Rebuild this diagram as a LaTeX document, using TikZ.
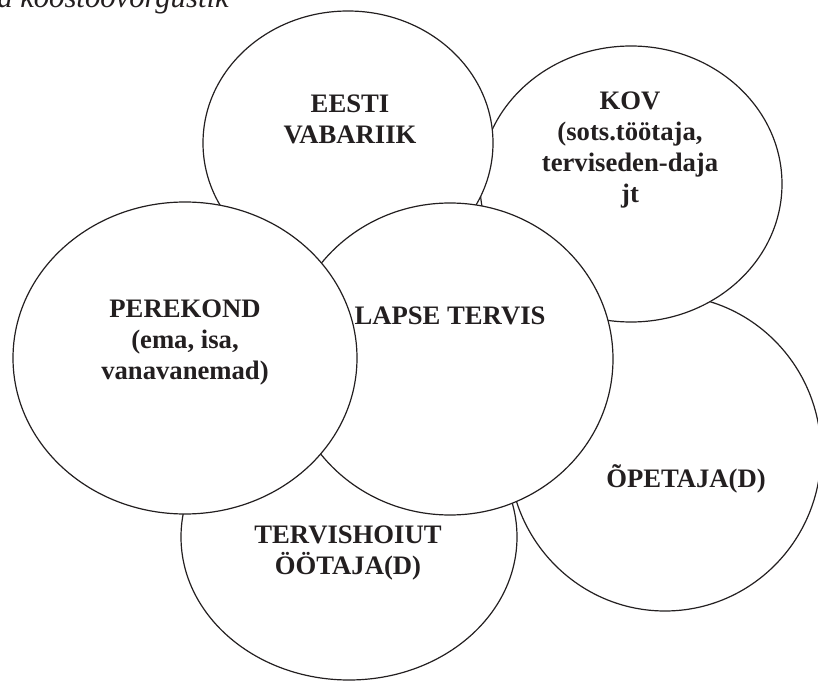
\documentclass[tikz,border=0pt]{standalone}
\usepackage{fontspec}
\setmainfont{Liberation Serif}
\usetikzlibrary{shapes.geometric}
\definecolor{ink}{RGB}{35,31,32}
\begin{document}
\begin{tikzpicture}[x=0.75pt,y=-0.75pt,
  bubble/.style args={#1/#2}{ellipse, draw=ink, line width=0.9pt, fill=white,
    inner sep=0pt, outer sep=0pt, minimum width=#1*0.75pt, minimum height=#2*0.75pt},
  lbl/.style={font=\fontsize{20}{23.25}\selectfont\bfseries, align=center,
    text=ink, inner sep=0pt},
  caption/.style={font=\fontsize{23}{27}\selectfont\itshape, text=ink, inner sep=0pt}]
\useasboundingbox (0,0) rectangle (818,681);
\clip (0,0) rectangle (818,681);
% caption, cut off by the top edge
\node[caption, anchor=base west] (cap) at (-3,8) {a koostöövõrgustik};
% circles, back to front
\node[bubble=312/316] (opetaja) at (665,453) {};
\node[bubble=302/276] (kov) at (631,184) {};
\node[bubble=290/264] (eesti) at (348,143) {};
\node[bubble=336/286] (tervishoid) at (349,537) {};
\node[bubble=326/312] (lapse) at (450,359) {};
\node[bubble=344/312] (perekond) at (185,358) {};
% texts
\node[lbl] (t-eesti) at (350,119.5) {EESTI\\VABARIIK};
\node[lbl] (t-kov) at (630,150) {KOV\\(sots.töötaja,\\terviseden-daja\\jt};
\node[lbl] (t-perekond) at (185,342.5) {PEREKOND\\(ema, isa,\\vanavanemad)};
\node[lbl] (t-lapse) at (450,316) {LAPSE TERVIS};
\node[lbl] (t-tervishoid) at (348,553) {TERVISHOIUT\\ÖÖTAJA(D)};
\node[lbl] (t-opetaja) at (686,479) {ÕPETAJA(D)};
\end{tikzpicture}
\end{document}
